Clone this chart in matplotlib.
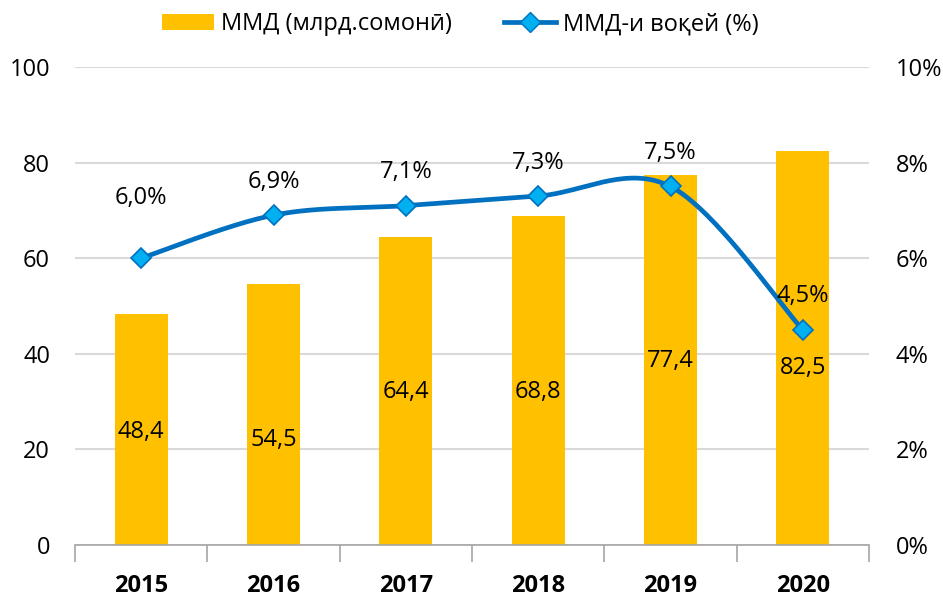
import matplotlib
matplotlib.use("Agg")
import matplotlib.pyplot as plt
from matplotlib.lines import Line2D
from matplotlib.patches import Patch
import numpy as np

plt.rcParams["font.family"] = ["Open Sans", "DejaVu Sans"]

# ── Data ─────────────────────────────────────────────────────────────────────
years = ["2015", "2016", "2017", "2018", "2019", "2020"]
gdp = [48.4, 54.5, 64.4, 68.8, 77.4, 82.5]          # ММД, млрд. сомонӣ
growth = [6.0, 6.9, 7.1, 7.3, 7.5, 4.5]             # %
gdp_label_y = [23.6, 22.0, 32.0, 32.0, 38.5, 37.0]   # where the in-bar labels sit

GOLD = "#FFC000"
BLUE = "#0070C0"
CYAN = "#00B0F0"
GRID = "#D9D9D9"
FS = 17

# ── Excel-style smoothed line (Bezier through points) ───────────────────────
def smooth(xs, ys, n=60):
    xs, ys = np.asarray(xs, float), np.asarray(ys, float)
    px = np.concatenate([[xs[0]], xs, [xs[-1]]])
    py = np.concatenate([[ys[0]], ys, [ys[-1]]])
    outx, outy = [], []
    t = np.linspace(0, 1, n)
    for i in range(1, len(px) - 2):
        p0 = np.array([px[i], py[i]])
        p1 = np.array([px[i + 1], py[i + 1]])
        c1 = p0 + (p1 - np.array([px[i - 1], py[i - 1]])) / 6
        c2 = p1 - (np.array([px[i + 2], py[i + 2]]) - p0) / 6
        b = ((1 - t) ** 3)[:, None] * p0 + (3 * (1 - t) ** 2 * t)[:, None] * c1 \
            + (3 * (1 - t) * t ** 2)[:, None] * c2 + (t ** 3)[:, None] * p1
        outx.append(b[:, 0]); outy.append(b[:, 1])
    return np.concatenate(outx), np.concatenate(outy)

# ── Figure ───────────────────────────────────────────────────────────────────
fig = plt.figure(figsize=(9.43, 5.98), dpi=100)
ax = fig.add_axes([75 / 943, 1 - 545 / 598, 794 / 943, 478 / 598])
x = np.arange(len(years))

ax.bar(x, gdp, width=0.4, color=GOLD, zorder=2)
ax.set_xlim(-0.5, len(years) - 0.5)
ax.set_ylim(0, 100)
ax.set_yticks(range(0, 101, 20))
ax.yaxis.grid(True, color=GRID, linewidth=1.5, zorder=0)
ax.set_axisbelow(True)
for s in ["top", "right", "left"]:
    ax.spines[s].set_visible(False)
ax.spines["bottom"].set_color("#A6A6A6")
ax.spines["bottom"].set_linewidth(1.2)
ax.tick_params(axis="y", length=0, pad=18, labelsize=FS)
ax.set_xticks(x)
ax.set_xticklabels(years, fontsize=17, fontweight="bold")
ax.set_xticks(np.arange(-0.5, len(years)), minor=True)
ax.tick_params(axis="x", which="major", length=0, pad=21)
ax.tick_params(axis="x", which="minor", length=12, color="#A6A6A6", width=1.2)

for xi, v, ly in zip(x, gdp, gdp_label_y):
    ax.text(xi, ly, f"{v:.1f}".replace(".", ","), ha="center", va="center",
            fontsize=FS, zorder=5)

ax2 = ax.twinx()
ax2.set_ylim(0, 10)
ax2.set_yticks(range(0, 11, 2))
ax2.set_yticklabels([f"{v}%" for v in range(0, 11, 2)])
for s in ["top", "right", "left", "bottom"]:
    ax2.spines[s].set_visible(False)
ax2.tick_params(axis="y", length=0, pad=19, labelsize=FS)

sx, sy = smooth(x, growth)
ax2.plot(sx, sy, color=BLUE, linewidth=3.4, solid_capstyle="round", zorder=3)
ax2.plot(x, growth, linestyle="none", marker="D", markersize=10,
         markerfacecolor=CYAN, markeredgecolor=BLUE, markeredgewidth=1.2, zorder=4)

label_off = [1.25, 0.7, 0.7, 0.7, 0.7, 0.7]
for xi, v, off in zip(x, growth, label_off):
    ax2.text(xi, v + off, f"{v:.1f}%".replace(".", ","), ha="center", va="center",
             fontsize=FS, zorder=5)

handles = [
    Patch(facecolor=GOLD, edgecolor="none"),
    Line2D([0], [0], color=BLUE, linewidth=3.4, marker="D", markersize=10,
           markerfacecolor=CYAN, markeredgecolor=BLUE),
]
fig.legend(handles, ["ММД (млрд.сомонӣ)", "ММД-и воқей (%)"],
           loc="upper center", bbox_to_anchor=(0.488, 1.015), ncol=2, frameon=False,
           fontsize=FS, handlelength=2.2, handletextpad=0.3, columnspacing=2.2)

fig.savefig("out.png", dpi=100)
